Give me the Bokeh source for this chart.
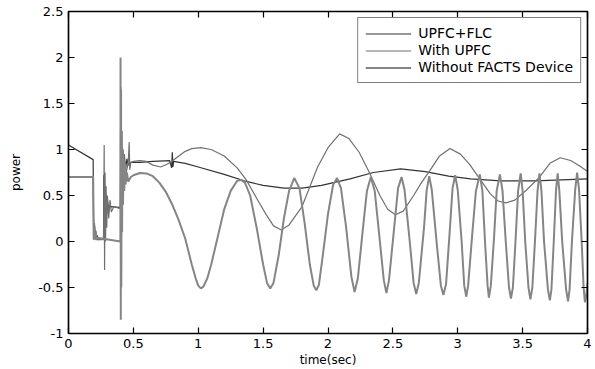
from bokeh.plotting import figure
from bokeh.models import Range1d, FixedTicker, NumeralTickFormatter, LinearAxis, Legend, LegendItem
from bokeh.embed import file_html
from bokeh.resources import INLINE

# ---- data ----
series_names = ["UPFC+FLC", "With UPFC", "Without FACTS Device"]

t_flc = [0.0, 0.19, 0.193, 0.2, 0.205, 0.21, 0.215, 0.22, 0.23, 0.27, 0.272, 0.276, 0.28, 0.285,
         0.29, 0.295, 0.30, 0.31, 0.32, 0.39, 0.40, 0.402, 0.405, 0.41, 0.415, 0.42, 0.425, 0.43,
         0.44, 0.45, 0.46, 0.48, 0.55, 0.65, 0.78, 0.795, 0.80, 0.805, 0.81, 0.90, 1.0, 1.2, 1.378,
         1.5, 1.66, 1.8, 1.95, 2.17, 2.35, 2.56, 2.75, 2.93, 3.1, 3.33, 3.6, 3.8, 4.0]
p_flc = [1.05, 0.89, 0.03, 0.18, 0.04, 0.12, 0.03, 0.07, 0.02, 0.03, 0.72, 0.12, 0.6, 0.25,
         0.5, 0.3, 0.45, 0.34, 0.38, 0.37, 0.37, 1.68, 0.3, 1.2, 0.6, 1.0, 0.75, 0.95,
         0.78, 0.9, 0.83, 0.86, 0.86, 0.87, 0.88, 0.80, 0.97, 0.81, 0.87, 0.85, 0.81, 0.73, 0.65,
         0.61, 0.58, 0.58, 0.61, 0.68, 0.75, 0.79, 0.76, 0.71, 0.68, 0.66, 0.66, 0.67, 0.68]

t_upfc = [0.0, 0.19, 0.195, 0.20, 0.21, 0.27, 0.275, 0.278, 0.282, 0.286, 0.29, 0.295, 0.30,
          0.31, 0.32, 0.33, 0.35, 0.39, 0.40, 0.402, 0.406, 0.41, 0.42, 0.43, 0.44, 0.46, 0.468,
          0.472, 0.48, 0.50, 0.55, 0.60, 0.65, 0.71, 0.76, 0.80, 0.85, 0.90, 0.95, 1.02, 1.10,
          1.20, 1.30, 1.37, 1.45, 1.52, 1.58, 1.64, 1.70, 1.80, 1.92, 2.00, 2.09, 2.16, 2.24,
          2.315, 2.40, 2.46, 2.52, 2.58, 2.66, 2.72, 2.78, 2.86, 2.94, 3.02, 3.09, 3.16, 3.25,
          3.31, 3.37, 3.44, 3.53, 3.63, 3.71, 3.79, 3.87, 3.94, 4.0]
p_upfc = [0.7, 0.7, 0.02, 0.2, 0.02, 0.02, 1.05, -0.31, 0.75, 0.0, 0.6, 0.15, 0.5,
          0.25, 0.45, 0.32, 0.38, 0.36, 0.36, 0.9, 0.55, 0.95, 0.65, 0.9, 0.72, 0.85, 1.08,
          0.78, 0.86, 0.87, 0.88, 0.87, 0.83, 0.81, 0.84, 0.875, 0.93, 0.98, 1.01, 1.02, 1.0,
          0.93, 0.80, 0.67, 0.47, 0.30, 0.17, 0.125, 0.18, 0.38, 0.81, 1.02, 1.17, 1.12, 0.97,
          0.76, 0.50, 0.35, 0.29, 0.33, 0.50, 0.64, 0.76, 0.93, 1.01, 0.95, 0.84, 0.70, 0.52,
          0.44, 0.42, 0.45, 0.56, 0.70, 0.85, 0.91, 0.88, 0.82, 0.76]

t_none = [0.0, 0.19, 0.195, 0.20, 0.205, 0.21, 0.215, 0.22, 0.40, 0.401, 0.403, 0.405, 0.407,
          0.41, 0.413, 0.416, 0.42, 0.425, 0.43, 0.435, 0.44, 0.45, 0.46, 0.48, 0.50, 0.55, 0.60,
          0.65, 0.70, 0.75, 0.80, 0.85, 0.90, 0.95, 0.98, 1.00, 1.02, 1.04, 1.07, 1.10, 1.15,
          1.20, 1.25, 1.30, 1.33, 1.36, 1.40, 1.45, 1.50, 1.53, 1.555, 1.58, 1.62, 1.66, 1.70,
          1.74, 1.78, 1.82, 1.86, 1.89, 1.91, 1.93, 1.96, 2.00, 2.04, 2.07, 2.10, 2.14, 2.18,
          2.205, 2.23, 2.27, 2.30, 2.33, 2.36, 2.40, 2.43, 2.45, 2.47, 2.51, 2.54, 2.567, 2.59,
          2.63, 2.66, 2.68, 2.70, 2.74, 2.76, 2.78, 2.80, 2.84, 2.87, 2.89, 2.91, 2.94, 2.96,
          2.98, 3.00, 3.03, 3.05, 3.066, 3.08, 3.11, 3.14, 3.17, 3.19, 3.21, 3.23, 3.24, 3.255,
          3.28, 3.30, 3.325, 3.345, 3.37, 3.395, 3.41, 3.425, 3.445, 3.465, 3.485, 3.50, 3.52,
          3.545, 3.56, 3.575, 3.595, 3.615, 3.63, 3.645, 3.665, 3.695, 3.71, 3.722, 3.74, 3.757,
          3.77, 3.783, 3.805, 3.835, 3.85, 3.862, 3.88, 3.905, 3.92, 3.935, 3.955, 3.97, 3.98,
          3.99, 4.0]
p_none = [0.7, 0.7, 0.02, 0.15, 0.03, 0.1, 0.02, 0.04, 0.0, 2.0, -0.85, 1.65, -0.5,
          1.2, 0.1, 1.0, 0.4, 0.95, 0.55, 0.85, 0.62, 0.75, 0.65, 0.70, 0.72, 0.745, 0.74,
          0.71, 0.64, 0.54, 0.40, 0.23, 0.03, -0.25, -0.40, -0.48, -0.51, -0.49, -0.40, -0.25, 0.05,
          0.35, 0.55, 0.66, 0.67, 0.64, 0.50, 0.15, -0.25, -0.45, -0.51, -0.45, -0.15, 0.25, 0.55,
          0.69, 0.58, 0.20, -0.25, -0.48, -0.53, -0.47, -0.15, 0.30, 0.62, 0.69, 0.58, 0.15, -0.38,
          -0.55, -0.40, 0.15, 0.55, 0.70, 0.55, 0.0, -0.42, -0.56, -0.42, 0.15, 0.58, 0.70, 0.56,
          0.0, -0.45, -0.57, -0.45, 0.15, 0.55, 0.71, 0.56, -0.05, -0.48, -0.58, -0.46, 0.15, 0.58,
          0.72, 0.56, 0.0, -0.48, -0.60, -0.48, 0.05, 0.55, 0.73, 0.55, 0.0, -0.48, -0.61, -0.48,
          0.05, 0.55, 0.73, 0.55, 0.0, -0.5, -0.62, -0.5, 0.0, 0.55, 0.74, 0.55, 0.0,
          -0.5, -0.63, -0.5, 0.0, 0.55, 0.74, 0.55, 0.0, -0.52, -0.64, -0.52, 0.0, 0.55,
          0.74, 0.55, 0.0, -0.52, -0.65, -0.52, 0.0, 0.56, 0.75, 0.56, 0.0, -0.5, -0.66,
          -0.6, -0.45]

x_ticks = [0, 0.5, 1, 1.5, 2, 2.5, 3, 3.5, 4]
y_ticks = [-1, -0.5, 0, 0.5, 1, 1.5, 2, 2.5]

FONT = "DejaVu Sans"

p = figure(width=595, height=369, output_backend="svg", toolbar_location=None,
           x_range=Range1d(0, 4), y_range=Range1d(-1, 2.5),
           min_border_left=68, min_border_right=8, min_border_top=11, min_border_bottom=35,
           x_axis_label="time(sec)", y_axis_label="power")
p.background_fill_color = "white"
p.border_fill_color = "white"
p.outline_line_color = "black"
p.outline_line_width = 1.2
p.xgrid.visible = False
p.ygrid.visible = False

r1 = p.line(t_flc, p_flc, line_color="#333333", line_width=1.2)
r2 = p.line(t_upfc, p_upfc, line_color="#707070", line_width=1.2)
r3 = p.line(t_none, p_none, line_color="#858585", line_width=2)

# top and right axes (ticks only)
top_axis = LinearAxis()
right_axis = LinearAxis()
p.add_layout(top_axis, "above")
p.add_layout(right_axis, "right")

for ax in p.xaxis:
    ax.ticker = FixedTicker(ticks=x_ticks)
for ax in p.yaxis:
    ax.ticker = FixedTicker(ticks=y_ticks)

for ax in p.axis:
    ax.formatter = NumeralTickFormatter(format="0.[0]")
    ax.axis_line_color = "black"
    ax.axis_line_width = 1.5
    ax.major_tick_line_color = "black"
    ax.major_tick_line_width = 1.2
    ax.major_tick_in = 6
    ax.major_tick_out = 0
    ax.minor_tick_line_color = None
    ax.major_label_text_font = FONT
    ax.major_label_text_font_size = "13px"
    ax.major_label_text_color = "black"
    ax.axis_label_text_font = FONT
    ax.axis_label_text_font_size = "12px"
    ax.axis_label_text_font_style = "normal"
    ax.axis_label_text_color = "black"

for ax in (top_axis, right_axis):
    ax.major_label_text_color = None
    ax.major_label_text_font_size = "1px"
    ax.major_label_standoff = 0

p.below[0].major_label_standoff = 5
p.below[0].axis_label_standoff = 2
p.left[0].major_label_standoff = 5
p.left[0].axis_label_standoff = 12

legend = Legend(items=[LegendItem(label=series_names[0], renderers=[r1]),
                       LegendItem(label=series_names[1], renderers=[r2]),
                       LegendItem(label=series_names[2], renderers=[r3])],
                location="top_right")
legend.margin = 6
legend.padding = 7
legend.spacing = 1
legend.glyph_width = 46
legend.glyph_height = 15
legend.label_height = 15
legend.label_standoff = 7
legend.label_text_font = FONT
legend.label_text_font_size = "14px"
legend.label_text_color = "black"
legend.border_line_color = "black"
legend.border_line_width = 1.2
legend.background_fill_color = "white"
legend.background_fill_alpha = 1.0
p.add_layout(legend)

open("out.html", "w").write(file_html(p, INLINE))
